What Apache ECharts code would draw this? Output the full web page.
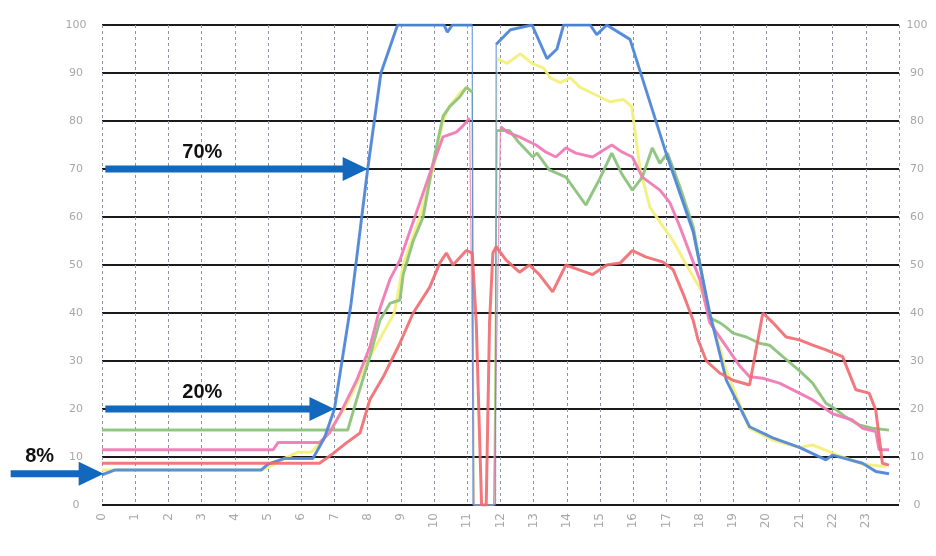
<!DOCTYPE html>
<html>
<head>
<meta charset="utf-8">
<script src="https://cdn.jsdelivr.net/npm/echarts@6/dist/echarts.min.js"></script>
<style>
  html, body { margin: 0; padding: 0; background: #fff; }
  #main { width: 936px; height: 556px; }
</style>
</head>
<body>
<div id="main"></div>
<script>
// hour ticks shown under the axis
var hourLabels = ['0','1','2','3','4','5','6','7','8','9','10','11','12','13','14','15','16','17','18','19','20','21','22','23'];

// each curve: sample hours + percent values
var blueHours = [0, 0.4, 4.8, 5.0, 5.5, 6.35, 6.7, 7.0, 7.5, 8.0, 8.4, 8.9, 10.3, 10.4, 10.55, 11.15, 11.17, 11.85, 11.87, 12.3, 12.95, 13.4, 13.7, 13.9, 14.7, 14.9, 15.2, 15.9, 17.0, 17.8, 18.3, 18.8, 19.5, 20.2, 21.0, 21.8, 22.0, 22.9, 23.3, 23.7];
var blueValues = [6.3, 7.3, 7.3, 8.5, 9.7, 9.7, 14, 20, 42, 70, 90, 100, 100, 98.5, 100, 100, 0, 0, 96, 99, 100, 93, 95, 100, 100, 98, 100, 97, 73, 57, 40, 26, 16.3, 14, 12, 9.4, 10.4, 8.7, 7, 6.5];

var yellowHours = [0, 4.8, 5.0, 5.5, 5.9, 6.3, 6.7, 7.0, 7.3, 8.0, 8.4, 8.8, 9.07, 9.57, 9.97, 10.27, 10.45, 10.8, 11.0, 11.15, 11.2, 11.8, 11.9, 12.2, 12.6, 12.95, 13.3, 13.5, 13.8, 14.1, 14.4, 15.0, 15.3, 15.7, 15.95, 16.05, 16.2, 16.5, 16.8, 17.2, 17.6, 18.1, 18.3, 18.8, 19.5, 20.2, 21.0, 21.4, 22.0, 22.9, 23.6];
var yellowValues = [7.3, 7.3, 7.8, 9.7, 11, 11, 14, 17, 20, 30, 35, 40, 50, 60, 70, 80, 83, 86, 87, 86, 0, 0, 93, 92, 94, 92, 91, 89, 88, 89, 87, 85, 84, 84.5, 83, 78, 70, 62, 59, 55, 50, 44, 40, 28, 16, 13.5, 12, 12.5, 10.8, 8.5, 8];

var pinkHours = [0, 5.15, 5.3, 6.55, 6.85, 7.17, 7.67, 8.07, 8.37, 8.67, 8.97, 9.17, 9.47, 9.97, 10.27, 10.67, 10.87, 11.07, 11.2, 11.8, 12.0, 12.2, 12.57, 13.07, 13.37, 13.67, 13.97, 14.27, 14.77, 15.35, 15.67, 15.97, 16.27, 16.8, 17.1, 17.4, 17.7, 18.0, 18.3, 18.8, 19.2, 19.5, 19.9, 20.4, 21.0, 21.4, 22.0, 22.6, 22.9, 23.3, 23.4, 23.7];
var pinkValues = [11.5, 11.5, 13, 13, 15, 19, 26, 33, 41, 47, 51, 55, 61, 71, 76.7, 77.7, 79, 80.6, 0, 0, 78.8, 77.7, 76.7, 75, 73.5, 72.5, 74.4, 73.3, 72.5, 75, 73.5, 72.5, 68.3, 65.6, 63, 58, 52.5, 47, 38, 33, 29, 26.7, 26.4, 25.4, 23.3, 21.9, 19, 17.7, 16, 15.3, 11.5, 11.5];

var greenHours = [0, 7.4, 7.67, 8.07, 8.37, 8.67, 8.97, 9.07, 9.37, 9.67, 9.93, 10.27, 10.47, 10.77, 10.97, 11.15, 11.2, 11.8, 11.9, 12.27, 12.57, 12.97, 13.1, 13.47, 13.97, 14.57, 14.97, 15.35, 15.65, 15.97, 16.27, 16.57, 16.8, 17.03, 17.4, 17.8, 18.0, 18.3, 18.6, 18.8, 19.0, 19.4, 19.8, 20.1, 20.5, 21.0, 21.4, 21.8, 22.0, 22.4, 22.8, 23.2, 23.7];
var greenValues = [15.6, 15.6, 22, 31, 38.5, 42, 42.7, 48, 55, 60, 70, 81, 83, 85, 87, 86, 0, 0, 78, 78, 75.4, 72.5, 73.3, 69.8, 68.3, 62.5, 67.7, 73.3, 69, 65.6, 68.3, 74.4, 71.2, 73.3, 66.3, 58, 50.4, 39, 38, 37, 35.8, 35, 33.7, 33.3, 30.9, 28, 25.4, 21.2, 20.4, 18.3, 16.7, 16, 15.6];

var redHours = [0, 6.55, 6.97, 7.37, 7.77, 8.07, 8.47, 8.97, 9.37, 9.87, 10.17, 10.37, 10.57, 10.97, 11.15, 11.27, 11.43, 11.57, 11.67, 11.77, 11.87, 12.17, 12.57, 12.87, 13.17, 13.57, 13.97, 14.37, 14.77, 15.2, 15.6, 15.97, 16.37, 16.9, 17.2, 17.5, 17.8, 17.95, 18.2, 18.6, 19.0, 19.5, 19.9, 20.2, 20.6, 21.0, 21.4, 21.8, 22.3, 22.7, 23.1, 23.3, 23.5, 23.7];
var redValues = [8.7, 8.7, 10.8, 13, 15, 22, 26.7, 33.7, 40, 45.4, 50.4, 52.5, 50, 53, 52.5, 38, 0, 0, 38, 52.5, 53.8, 51, 48.5, 50, 48, 44.4, 50, 49, 48, 50, 50.4, 53, 51.7, 50.6, 49, 44, 38.5, 34.4, 30, 27.5, 26, 25, 40, 38, 35, 34.4, 33.3, 32.3, 30.9, 24, 23.3, 19.8, 8.7, 8.3];

// annotation arrows: label, level (%), start hour, tip hour
var arrowLabels = ['70%', '20%', '8%'];
var arrowLevels = [70, 20, 6.5];
var arrowFrom = [0.1, 0.1, -2.75];
var arrowTo = [8.0, 7.0, 0.05];

function pairs(hours, values, dropZero) {
    var out = [];
    for (var i = 0; i < hours.length; i++) {
        // the short outage at 11h is drawn only by the thin trace
        out.push([hours[i], (dropZero && values[i] === 0) ? null : values[i]]);
    }
    return out;
}

function lineSeries(name, color, hours, values, thinDip) {
    var list = [];
    if (thinDip) {
        list.push({
            name: name,
            type: 'line',
            showSymbol: false,
            data: pairs(hours, values, false),
            lineStyle: { color: color, width: 1.3, opacity: 0.75 },
            itemStyle: { color: color },
            z: 2
        });
    }
    list.push({
        name: name,
        type: 'line',
        showSymbol: false,
        connectNulls: false,
        data: pairs(hours, values, thinDip),
        lineStyle: { color: color, width: 3, opacity: 0.9 },
        itemStyle: { color: color },
        z: 3
    });
    return list;
}

var chart = echarts.init(document.getElementById('main'));

var tickStyle = { color: '#a8a8a8', fontSize: 11, fontFamily: 'DejaVu Sans' };

var option = {
    backgroundColor: '#ffffff',
    animation: false,
    grid: { left: 102, right: 37, top: 25, bottom: 51 },
    xAxis: {
        type: 'value',
        min: 0,
        max: 24,
        interval: 1,
        axisLine: { show: false },
        axisTick: { show: false },
        axisLabel: Object.assign({
            rotate: 90,
            margin: 8,
            formatter: function (v) {
                return v < hourLabels.length ? hourLabels[v] : '';
            }
        }, tickStyle, { fontSize: 12 }),
        splitLine: { show: true, lineStyle: { color: '#8f93a8', width: 1, type: [3, 3] } }
    },
    yAxis: [
        {
            type: 'value',
            min: 0,
            max: 100,
            interval: 10,
            axisLine: { show: false },
            axisTick: { show: false },
            axisLabel: Object.assign({ margin: 26, align: 'center' }, tickStyle),
            splitLine: { show: true, lineStyle: { color: '#1a1a1a', width: 2 } }
        },
        {
            type: 'value',
            min: 0,
            max: 100,
            interval: 10,
            position: 'right',
            axisLine: { show: false },
            axisTick: { show: false },
            axisLabel: Object.assign({ margin: 18, align: 'center' }, tickStyle),
            splitLine: { show: false }
        }
    ],
    series: [].concat(
        lineSeries('yellow', '#f3ef7c', yellowHours, yellowValues, true),
        lineSeries('green', '#8cc27c', greenHours, greenValues, true),
        lineSeries('pink', '#f07bb5', pinkHours, pinkValues, true),
        lineSeries('blue', '#4f86d8', blueHours, blueValues, true),
        lineSeries('red', '#f0696e', redHours, redValues, false)
    )
};

chart.setOption(option);

// arrows drawn on top, placed through the axes
var graphics = [];
for (var i = 0; i < arrowLabels.length; i++) {
    var p0 = chart.convertToPixel({ gridIndex: 0 }, [arrowFrom[i], arrowLevels[i]]);
    var p1 = chart.convertToPixel({ gridIndex: 0 }, [arrowTo[i], arrowLevels[i]]);
    var x0 = p0[0], x1 = p1[0], y = p0[1];
    var headLen = 25, headHalf = 12, shaftHalf = 3.5;
    graphics.push({
        type: 'polygon',
        z: 100,
        shape: {
            points: [
                [x0, y - shaftHalf], [x1 - headLen, y - shaftHalf], [x1 - headLen, y - headHalf],
                [x1, y], [x1 - headLen, y + headHalf], [x1 - headLen, y + shaftHalf], [x0, y + shaftHalf]
            ]
        },
        style: { fill: '#1168bd' }
    });
    var cx = i < 2 ? x0 + 97 : (x0 + x1 - headLen) / 2 - 5;
    graphics.push({
        type: 'text',
        z: 100,
        x: cx,
        y: y - 17,
        style: {
            text: arrowLabels[i],
            fill: '#111',
            font: 'bold 20px "Liberation Sans", Arial, sans-serif',
            align: 'center',
            verticalAlign: 'middle'
        }
    });
}
chart.setOption({ graphic: graphics });

window.addEventListener('resize', function () {
    chart.resize();
});
</script>
</body>
</html>
